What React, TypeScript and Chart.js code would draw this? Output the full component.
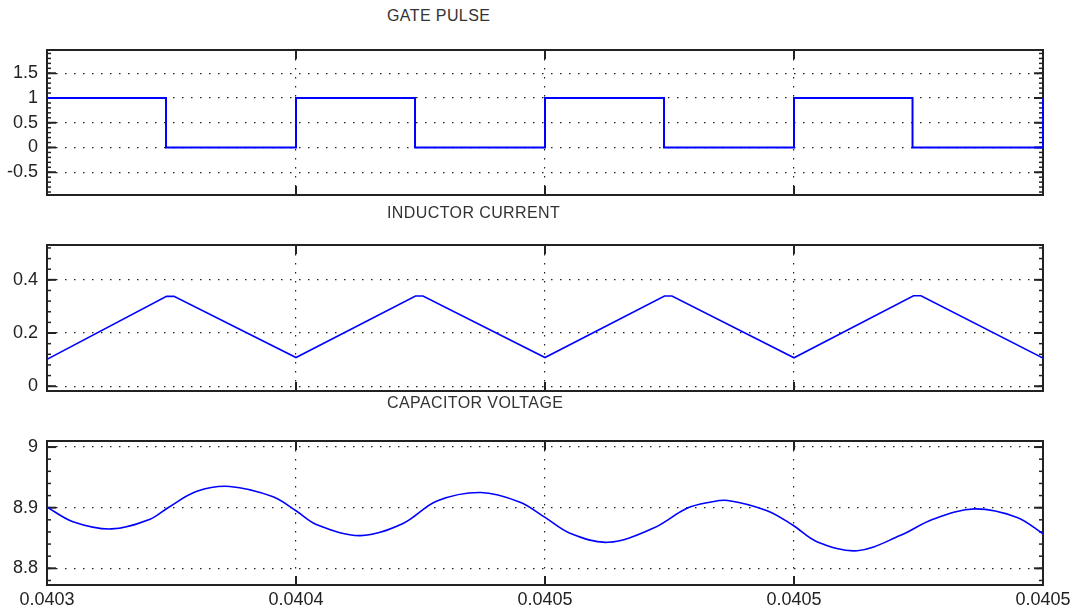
import React, { useEffect, useRef } from 'react';
import { Chart, registerables } from 'chart.js';

Chart.register(...registerables);

// ---------- data ----------
const X_MIN = 0.0403;
const X_MAX = 0.0405;
const X_TICKS = [0.0403, 0.04035, 0.0404, 0.04045, 0.0405];
const X_TICK_LABELS = ['0.0403', '0.0404', '0.0405', '0.0405', '0.0405'];

const GATE_TIME = [
  0.0403, 0.0403, 0.0403239, 0.0403239,
  0.04035, 0.04035, 0.0403739, 0.0403739,
  0.0404, 0.0404, 0.0404239, 0.0404239,
  0.04045, 0.04045, 0.0404738, 0.0404738,
  0.0405, 0.0405,
];
const GATE_VALUE = [0, 1, 1, 0, 0, 1, 1, 0, 0, 1, 1, 0, 0, 1, 1, 0, 0, 1];
const GATE_Y_TICKS = [-0.5, 0, 0.5, 1, 1.5];
const GATE_Y_LABELS = ['-0.5', '0', '0.5', '1', '1.5'];
const GATE_Y_RANGE = [-0.96, 1.97];

const CURRENT_TIME = [
  0.0403, 0.040324, 0.0403255, 0.04035,
  0.040374, 0.0403755, 0.0404,
  0.040424, 0.0404255, 0.04045,
  0.040474, 0.0404755, 0.0405,
];
const CURRENT_VALUE = [
  0.101, 0.338, 0.338, 0.108,
  0.339, 0.339, 0.108,
  0.339, 0.339, 0.107,
  0.340, 0.340, 0.106,
];
const CURRENT_Y_TICKS = [0, 0.2, 0.4];
const CURRENT_Y_LABELS = ['0', '0.2', '0.4'];
const CURRENT_Y_RANGE = [-0.018, 0.531];

const VOLTAGE_TIME = [
  0.0403, 0.0403052, 0.0403129, 0.0403207, 0.0403243, 0.0403301, 0.0403367, 0.0403454,
  0.04035, 0.0403542, 0.0403629, 0.0403715, 0.0403783, 0.0403871, 0.040395,
  0.0404, 0.040405, 0.0404127, 0.0404217, 0.0404285, 0.0404331, 0.0404367, 0.0404446,
  0.0404498, 0.0404546, 0.0404627, 0.0404713, 0.0404779, 0.0404863, 0.0404948, 0.0405,
];
const VOLTAGE_VALUE = [
  8.901, 8.877, 8.865, 8.881, 8.9, 8.927, 8.935, 8.918,
  8.895, 8.872, 8.854, 8.874, 8.911, 8.925, 8.909,
  8.884, 8.858, 8.843, 8.866, 8.899, 8.909, 8.912, 8.895,
  8.871, 8.844, 8.829, 8.854, 8.881, 8.898, 8.884, 8.857,
];
const VOLTAGE_Y_TICKS = [8.8, 8.9, 9];
const VOLTAGE_Y_LABELS = ['8.8', '8.9', '9'];
const VOLTAGE_Y_RANGE = [8.7725, 9.01];

const TITLES = ['GATE PULSE', 'INDUCTOR CURRENT', 'CAPACITOR VOLTAGE'];

// ---------- styling ----------
const FONT = '"Liberation Sans", Arial, Helvetica, sans-serif';
const W = 1075;
const AXIS_W = 47;
const PAD_RIGHT = 32;
const PAD_TOP = 24;
const PAD_BOTTOM_HIDDEN = 24;

const boxPlugin = {
  id: 'matlabBox',
  beforeDatasetsDraw(chart: any) {
    const { ctx, chartArea } = chart;
    const { left, right, top, bottom } = chartArea;
    const xs = chart.scales.x;
    const ys = chart.scales.y;
    ctx.save();
    ctx.strokeStyle = '#222';
    ctx.lineWidth = 2;
    ctx.strokeRect(left, top, right - left, bottom - top);
    const line = (x1: number, y1: number, x2: number, y2: number) => {
      ctx.beginPath();
      ctx.moveTo(x1, y1);
      ctx.lineTo(x2, y2);
      ctx.stroke();
    };
    ctx.lineWidth = 2;
    xs.ticks.forEach((t: any) => {
      const p = xs.getPixelForValue(t.value);
      line(p, bottom, p, bottom - 9);
      line(p, top, p, top + 9);
    });
    ys.ticks.forEach((t: any) => {
      const p = ys.getPixelForValue(t.value);
      line(left, p, left + 9, p);
      line(right, p, right - 9, p);
    });
    if (ys.ticks.length > 1) {
      const step = ys.ticks[1].value - ys.ticks[0].value;
      const minor = step / 5;
      ctx.lineWidth = 1.5;
      const k0 = Math.ceil(ys.min / minor);
      const k1 = Math.floor(ys.max / minor);
      for (let k = k0; k <= k1; k++) {
        const v = k * minor;
        const p = ys.getPixelForValue(v);
        line(left, p, left + 4, p);
        line(right, p, right - 4, p);
      }
    }
    ctx.restore();
  },
};

type PanelProps = {
  top: number;
  height: number;
  xAxisH: number;
  showX: boolean;
  time: number[];
  values: number[];
  yTicks: number[];
  yLabels: string[];
  yRange: number[];
  lineWidth: number;
  smooth: boolean;
};

function Panel(p: PanelProps) {
  const ref = useRef<HTMLCanvasElement | null>(null);
  useEffect(() => {
    if (!ref.current) return;
    const chart = new Chart(ref.current, {
      type: 'line',
      data: {
        datasets: [
          {
            data: p.time.map((t, i) => ({ x: t, y: p.values[i] })),
            borderColor: '#0000ff',
            borderWidth: p.lineWidth,
            pointRadius: 0,
            fill: false,
            tension: p.smooth ? 0.35 : 0,
          } as any,
        ],
      },
      options: {
        responsive: false,
        animation: false,
        devicePixelRatio: 1,
        layout: { padding: { top: PAD_TOP, right: PAD_RIGHT, bottom: 0, left: 0 } },
        plugins: {
          legend: { display: false },
          tooltip: { enabled: false },
          title: { display: false },
        },
        scales: {
          x: {
            type: 'linear',
            min: X_MIN,
            max: X_MAX,
            afterBuildTicks: (s: any) => {
              s.ticks = X_TICKS.map((v) => ({ value: v }));
            },
            afterFit: (s: any) => {
              s.height = p.xAxisH;
            },
            ticks: {
              display: p.showX,
              padding: 4,
              autoSkip: false,
              maxRotation: 0,
              color: '#222',
              font: { family: FONT, size: 18 },
              callback: (_v: any, i: number) => X_TICK_LABELS[i],
            },
            grid: { color: '#222', lineWidth: 1.2, drawTicks: false },
            border: { display: false, dash: [1.5, 7.5] },
          },
          y: {
            type: 'linear',
            min: p.yRange[0],
            max: p.yRange[1],
            afterBuildTicks: (s: any) => {
              s.ticks = p.yTicks.map((v) => ({ value: v }));
            },
            afterFit: (s: any) => {
              s.width = AXIS_W;
            },
            ticks: {
              padding: 9,
              color: '#222',
              font: { family: FONT, size: 18 },
              callback: (_v: any, i: number) => p.yLabels[i],
            },
            grid: { color: '#222', lineWidth: 1.2, drawTicks: false },
            border: { display: false, dash: [1.5, 7.5] },
          },
        } as any,
      },
      plugins: [boxPlugin],
    });
    return () => chart.destroy();
  }, []);
  return (
    <canvas
      ref={ref}
      width={W}
      height={p.height}
      style={{ position: 'absolute', left: 0, top: p.top, width: W, height: p.height }}
    />
  );
}

const titleStyle = (top: number): React.CSSProperties => ({
  position: 'absolute',
  left: 387,
  top,
  fontFamily: FONT,
  fontSize: 16,
  lineHeight: '16px',
  color: '#333',
  letterSpacing: '0.4px',
  whiteSpace: 'nowrap',
});

export default function App() {
  return (
    <div
      style={{
        position: 'absolute',
        left: 0,
        top: 0,
        width: W,
        height: 612,
        background: '#fff',
        overflow: 'hidden',
      }}
    >
      <Panel
        top={50 - PAD_TOP}
        height={PAD_TOP + 145 + PAD_BOTTOM_HIDDEN}
        xAxisH={PAD_BOTTOM_HIDDEN}
        showX={false}
        time={GATE_TIME}
        values={GATE_VALUE}
        yTicks={GATE_Y_TICKS}
        yLabels={GATE_Y_LABELS}
        yRange={GATE_Y_RANGE}
        lineWidth={2}
        smooth={false}
      />
      <Panel
        top={245 - PAD_TOP}
        height={PAD_TOP + 146 + PAD_BOTTOM_HIDDEN}
        xAxisH={PAD_BOTTOM_HIDDEN}
        showX={false}
        time={CURRENT_TIME}
        values={CURRENT_VALUE}
        yTicks={CURRENT_Y_TICKS}
        yLabels={CURRENT_Y_LABELS}
        yRange={CURRENT_Y_RANGE}
        lineWidth={1.6}
        smooth={false}
      />
      <Panel
        top={441 - PAD_TOP}
        height={PAD_TOP + 144 + 27}
        xAxisH={27}
        showX={true}
        time={VOLTAGE_TIME}
        values={VOLTAGE_VALUE}
        yTicks={VOLTAGE_Y_TICKS}
        yLabels={VOLTAGE_Y_LABELS}
        yRange={VOLTAGE_Y_RANGE}
        lineWidth={1.6}
        smooth={true}
      />
      <div style={titleStyle(8)}>{TITLES[0]}</div>
      <div style={titleStyle(204.5)}>{TITLES[1]}</div>
      <div style={titleStyle(394.5)}>{TITLES[2]}</div>
    </div>
  );
}
